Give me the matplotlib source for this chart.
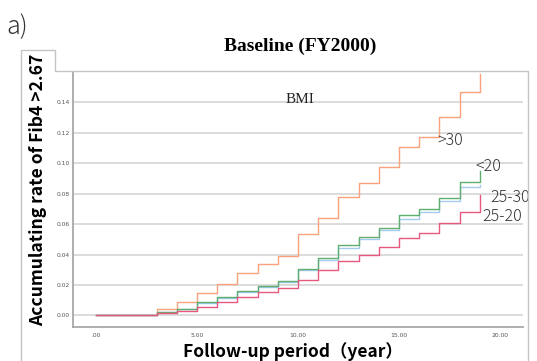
import matplotlib
matplotlib.use("Agg")
import matplotlib.pyplot as plt
from matplotlib.lines import Line2D

# follow-up year and cumulative rate of Fib4 > 2.67 by BMI group
years = list(range(0, 20))
bmi_over30 = [0, 0, 0, 0.0042, 0.0088, 0.0148, 0.0204, 0.0280, 0.0336, 0.0389,
              0.0536, 0.0638, 0.0778, 0.0870, 0.0975, 0.1107, 0.1173, 0.1305, 0.1470, 0.1586]
bmi_under20 = [0, 0, 0, 0.0023, 0.0045, 0.0086, 0.0120, 0.0158, 0.0193, 0.0229,
               0.0308, 0.0376, 0.0460, 0.0516, 0.0577, 0.0658, 0.0700, 0.0770, 0.0880, 0.0950]
bmi_25_30 = [0, 0, 0, 0.0022, 0.0042, 0.0080, 0.0115, 0.0151, 0.0185, 0.0219,
             0.0298, 0.0365, 0.0444, 0.0503, 0.0562, 0.0635, 0.0683, 0.0753, 0.0847, 0.0855]
bmi_25_20 = [0, 0, 0, 0.0014, 0.0032, 0.0058, 0.0090, 0.0124, 0.0157, 0.0179,
             0.0236, 0.0297, 0.0356, 0.0400, 0.0449, 0.0508, 0.0543, 0.0607, 0.0683, 0.0790]

series = [
    (bmi_over30, "#f9a27c"),
    (bmi_25_30, "#a4cbf0"),
    (bmi_under20, "#5fae6e"),
    (bmi_25_20, "#e8577e"),
]

yticks = [0.00, 0.02, 0.04, 0.06, 0.08, 0.10, 0.12, 0.14]
xticks = [0, 5, 10, 15, 20]
xticklabels = [".00", "5.00", "10.00", "15.00", "20.00"]

W, H = 537, 361
fig = plt.figure(figsize=(W / 100, H / 100), dpi=100)
ax = fig.add_axes([73 / W, 1 - 327 / H, (523 - 73) / W, (327 - 72) / H])

for ys, col in series:
    ax.step(years, ys, where="post", color=col, lw=1.0)

ax.set_xlim(-1.14, 21.14)
ax.set_ylim(-0.0076, 0.160)
ax.set_yticks(yticks)
ax.set_yticklabels([f"{v:.2f}" for v in yticks])
ax.set_xticks(xticks)
ax.set_xticklabels(xticklabels)
ax.tick_params(length=0, labelsize=4.3, labelcolor="#555555")
ax.tick_params(axis="y", pad=2.5)
ax.tick_params(axis="x", pad=4)
ax.grid(axis="y", color="#d9d9d9", lw=1.3)
ax.set_axisbelow(True)
for s in ["top", "right"]:
    ax.spines[s].set_visible(False)
for s in ["left", "bottom"]:
    ax.spines[s].set_color("#a8a8a8")
    ax.spines[s].set_linewidth(1.3)

# group labels
lab_font = ["Noto Sans CJK JP", "DejaVu Sans"]
ax.text(10.1, 0.1418, "BMI", family="Liberation Serif", fontsize=11,
        ha="center", va="center", color="#222222")
ax.text(16.9, 0.1148, ">30", family=lab_font, fontsize=11.5, fontweight="light",
        va="center", color="#333333")
ax.text(18.8, 0.0979, "<20", family=lab_font, fontsize=11.5, fontweight="light",
        va="center", color="#333333")
ax.text(19.54, 0.0773, "25-30", family=lab_font, fontsize=11.5, fontweight="light",
        va="center", color="#333333", clip_on=False)
ax.text(19.14, 0.0650, "25-20", family=lab_font, fontsize=11.5, fontweight="light",
        va="center", color="#333333", clip_on=False)

# outer frame
fx = lambda x: x / W
fy = lambda y: 1 - y / H
frame = Line2D([fx(21), fx(21), fx(55), fx(55), fx(528), fx(528)],
               [fy(361), fy(50), fy(50), fy(71), fy(71), fy(361)],
               transform=fig.transFigure, color="#c4c4c4", lw=1.0)
fig.add_artist(frame)

fig.text(fx(6), fy(27), "a)", family=lab_font, fontsize=18, fontweight="light",
         va="center", color="#333333")
fig.text(fx(300), fy(46), "Baseline (FY2000)", family="Liberation Serif",
         fontweight="bold", fontsize=14, ha="center", va="center")
fig.text(fx(38), fy(190), "Accumulating rate of Fib4 >2.67", family=lab_font,
         fontweight="bold", fontsize=12.6, rotation=90, ha="center", va="center")
fig.text(fx(293), fy(352), "Follow-up period（year）", family=lab_font,
         fontweight="bold", fontsize=12.5, ha="center", va="center")

fig.savefig("out.png", dpi=100)
